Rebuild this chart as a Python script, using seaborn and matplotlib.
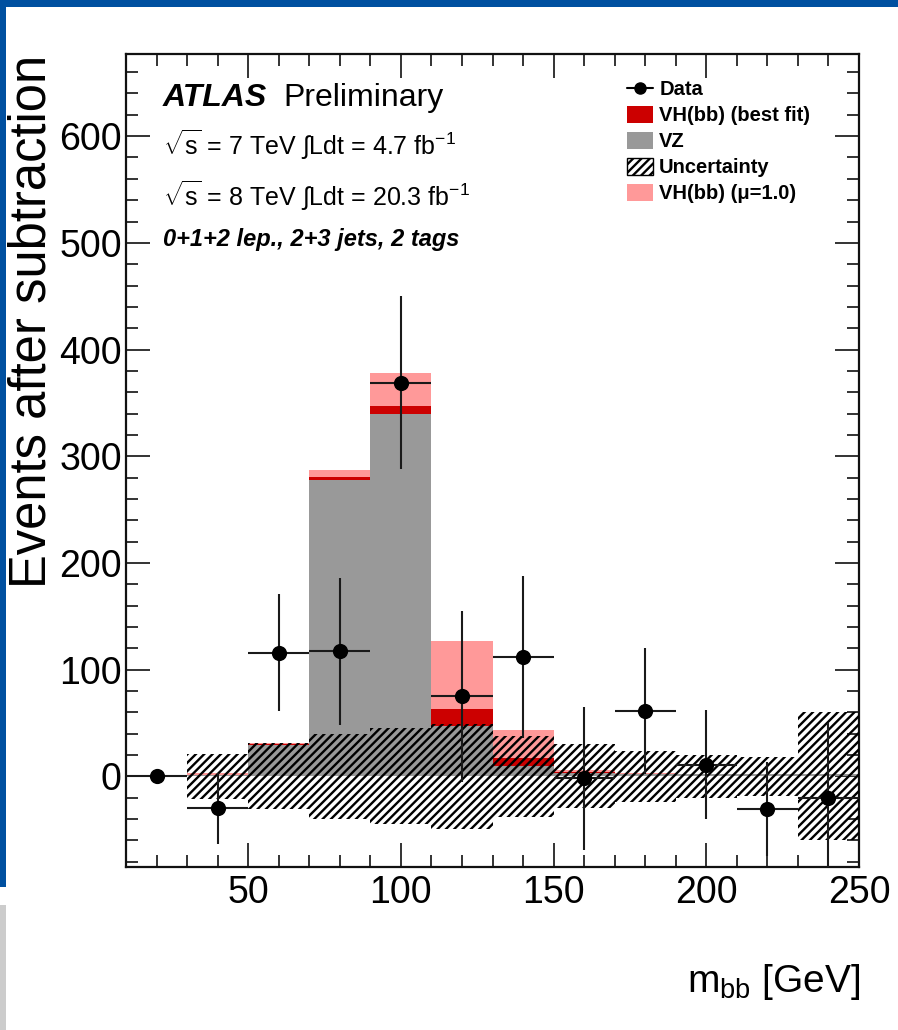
import numpy as np
import pandas as pd
import matplotlib
matplotlib.use("Agg")
import matplotlib.pyplot as plt
import seaborn as sns
from matplotlib.patches import Patch, Rectangle
from matplotlib.lines import Line2D
from matplotlib.ticker import MultipleLocator

# ---------------- data ----------------
bin_edges = [10, 30, 50, 70, 90, 110, 130, 150, 170, 190, 210, 230, 250]
bin_centers = [20, 40, 60, 80, 100, 120, 140, 160, 180, 200, 220, 240]
vz = [0, 1, 29, 278, 340, 47, 10, 3, 2, 2, 2, 2]
vh_fit = [0, 0.5, 1, 3, 7, 16, 7, 1, 0, 0, 0, 0]
vh_mu1 = [0, 2, 2, 9, 38, 80, 33, 3, 1, 0.5, 0.3, 0]
unc = [1, 21, 31, 40, 45, 49, 38, 30, 24, 20, 18, 60]
data_y = [0, -30, 116, 117, 369, 75, 112, -2, 61, 11, -31, -20]
data_err = [2, 33, 55, 69, 81, 80, 76, 67, 59, 51, 44, 70]

labels = ["Data", "VH(bb) (best fit)", "VZ", "Uncertainty", "VH(bb) (\u03bc=1.0)"]

C_RED = "#cc0000"
C_GRAY = "#999999"
C_PINK = "#ff9999"

# ---------------- style ----------------
sns.set_theme(style="ticks")
plt.rcParams["font.family"] = ["Liberation Sans", "DejaVu Sans"]
plt.rcParams["mathtext.fontset"] = "custom"
plt.rcParams["mathtext.rm"] = "Liberation Sans"
plt.rcParams["mathtext.it"] = "Liberation Sans:italic"
plt.rcParams["mathtext.bf"] = "Liberation Sans:bold"
plt.rcParams["hatch.linewidth"] = 1.7
for k in ["text.color", "axes.labelcolor", "xtick.color", "ytick.color", "axes.edgecolor",
          "xtick.labelcolor", "ytick.labelcolor"]:
    plt.rcParams[k] = "black"

W, H = 898, 1030
fig = plt.figure(figsize=(W / 100, H / 100), dpi=100)
fig.patch.set_facecolor("white")

# slide frame decoration
fig.patches.append(Rectangle((0, 1 - 7 / H), 1, 7 / H, transform=fig.transFigure,
                             facecolor="#0050a0", edgecolor="none"))
fig.patches.append(Rectangle((0, 1 - 887 / H), 6 / W, 887 / H, transform=fig.transFigure,
                             facecolor="#0050a0", edgecolor="none"))
fig.patches.append(Rectangle((0, 0), 6 / W, 125 / H, transform=fig.transFigure,
                             facecolor="#cccccc", edgecolor="none"))

ax_l, ax_r, ax_t, ax_b = 126, 859, 54, 867
ax = fig.add_axes([ax_l / W, 1 - ax_b / H, (ax_r - ax_l) / W, (ax_b - ax_t) / H])
ax.set_facecolor("white")

vz_a = np.array(vz, float)
pink_top = vz_a + np.array(vh_mu1, float)
red_top = vz_a + np.array(vh_fit, float)

for top, col in [(pink_top, C_PINK), (red_top, C_RED), (vz_a, C_GRAY)]:
    sns.histplot(x=bin_centers, weights=top, bins=bin_edges, color=col, alpha=1,
                 edgecolor="none", linewidth=0, element="bars", ax=ax)

# uncertainty band around zero
unc_a = np.array(unc, float)
ax.bar(bin_centers, 2 * unc_a, bottom=-unc_a, width=20, fill=False, hatch="////",
       edgecolor="black", linewidth=0, zorder=3)

# data
ax.errorbar(bin_centers, data_y, xerr=10, yerr=data_err, fmt="none", ecolor="#1a1a1a",
            elinewidth=1.5, capsize=0, zorder=4)
sns.scatterplot(x=bin_centers, y=data_y, color="black", s=120, linewidth=0, zorder=5, ax=ax)

ax.set_xlim(10, 250)
ax.set_ylim(-85, 677)
ax.set_xlabel("")
ax.set_ylabel("")
ax.xaxis.set_major_locator(MultipleLocator(50))
ax.xaxis.set_minor_locator(MultipleLocator(10))
ax.yaxis.set_major_locator(MultipleLocator(100))
ax.yaxis.set_minor_locator(MultipleLocator(20))
ax.tick_params(which="both", direction="in", top=True, right=True, width=1.2, color="#111111")
ax.tick_params(which="major", length=17)
ax.tick_params(which="minor", length=8.5)
ax.tick_params(axis="y", which="major", labelsize=27, pad=3, labelcolor="black")
ax.tick_params(axis="x", which="major", labelsize=27, pad=6, labelcolor="black")
for s in ax.spines.values():
    s.set_linewidth(1.6)
    s.set_color("#111111")

# axis titles
fig.text(32 / W, 1 - 55 / H, "Events after subtraction", rotation=90, ha="center", va="top",
         fontsize=36.5, color="black")
fig.text(860 / W, 1 - 992 / H, r"m$_{\rm bb}$ [GeV]", ha="right", va="baseline", fontsize=28,
         color="black")

# ATLAS labels
fig.text(163 / W, 1 - 106 / H, "ATLAS", fontsize=23, fontweight="bold", fontstyle="italic",
         va="baseline", color="black")
fig.text(283 / W, 1 - 106 / H, "Preliminary", fontsize=23, va="baseline", color="black")
fig.text(163 / W, 1 - 155 / H, r"$\sqrt{\rm s}$ = 7 TeV $\int$Ldt = 4.7 fb$^{-1}$",
         fontsize=18, va="baseline", color="black")
fig.text(163 / W, 1 - 206 / H, r"$\sqrt{\rm s}$ = 8 TeV $\int$Ldt = 20.3 fb$^{-1}$",
         fontsize=18, va="baseline", color="black")
fig.text(163 / W, 1 - 246 / H, "0+1+2 lep., 2+3 jets, 2 tags", fontsize=17, fontweight="bold",
         fontstyle="italic", va="baseline", color="black")

# legend
handles = [
    Line2D([], [], color="black", marker="o", markersize=8, lw=1.5),
    Patch(facecolor=C_RED, edgecolor="none"),
    Patch(facecolor=C_GRAY, edgecolor="none"),
    Patch(facecolor="white", edgecolor="black", hatch="////", linewidth=1),
    Patch(facecolor=C_PINK, edgecolor="none"),
]
leg = ax.legend(handles, labels, loc="upper left", bbox_to_anchor=(627 / W, 1 - 80 / H),
                bbox_transform=fig.transFigure, frameon=False,
                prop={"family": "Liberation Sans", "weight": "bold", "size": 14.5},
                handlelength=1.3, handleheight=0.9, handletextpad=0.3, labelspacing=0.33,
                borderpad=0, borderaxespad=0)
for t in leg.get_texts():
    t.set_color("black")

fig.savefig("out.png", dpi=100)
